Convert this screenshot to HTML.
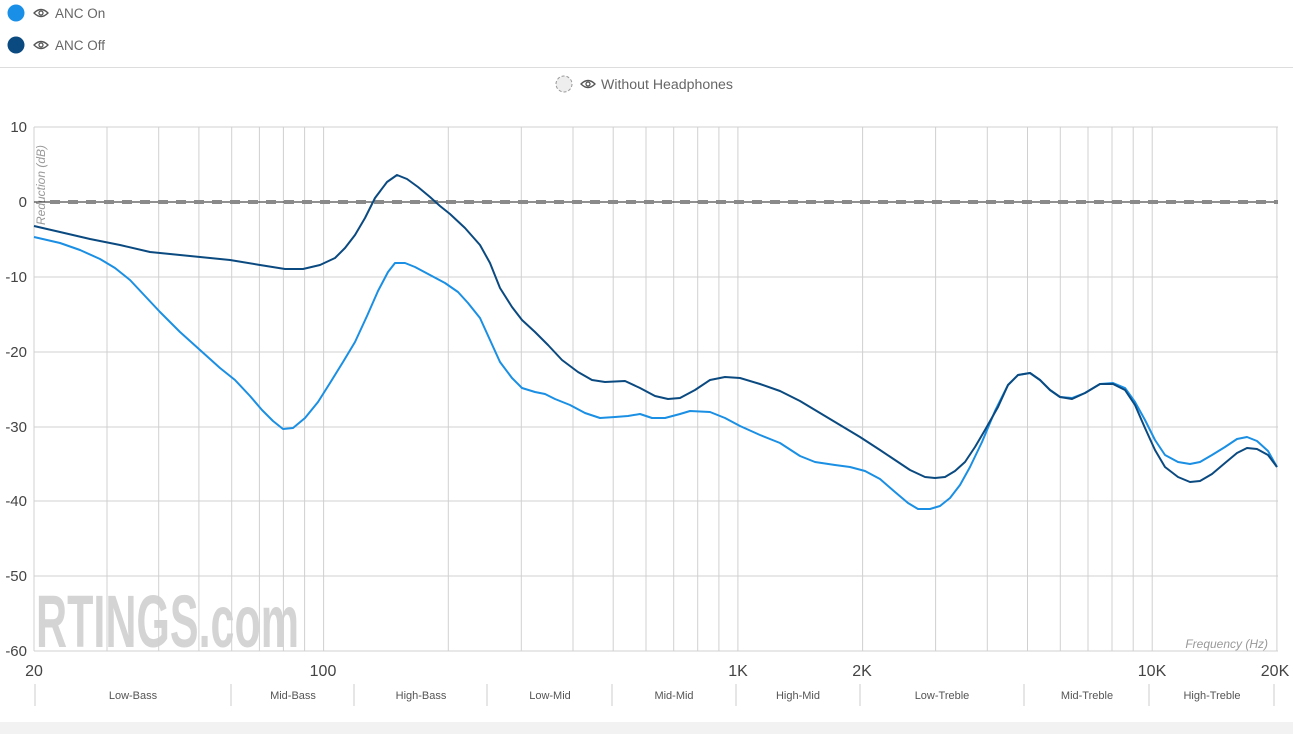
<!DOCTYPE html>
<html><head><meta charset="utf-8"><style>
html,body{margin:0;padding:0;background:#fff;width:1293px;height:734px;overflow:hidden;font-family:"Liberation Sans",sans-serif}
</style></head><body>
<svg width="1293" height="734" xmlns="http://www.w3.org/2000/svg" font-family="Liberation Sans, sans-serif">
<circle cx="16" cy="13" r="8.5" fill="#1a8fe8"/>
<circle cx="16" cy="45" r="8.5" fill="#0b4a80"/>
<g fill="none" stroke="#555" stroke-width="1.3">
<path d="M34 13 Q41 6 48 13 Q41 20 34 13Z"/><circle cx="41" cy="13" r="2"/>
<path d="M34 45 Q41 38 48 45 Q41 52 34 45Z"/><circle cx="41" cy="45" r="2"/>
<path d="M581 84 Q588 77 595 84 Q588 91 581 84Z"/><circle cx="588" cy="84" r="2"/>
</g>
<text x="55" y="18" font-size="13.5" fill="#666">ANC On</text>
<text x="55" y="50" font-size="13.5" fill="#666">ANC Off</text>
<line x1="0" y1="67.5" x2="1293" y2="67.5" stroke="#ddd"/>
<circle cx="564" cy="84" r="8" fill="#eee" stroke="#999" stroke-dasharray="3,2"/>
<text x="601" y="89" font-size="13.5" fill="#666" textLength="132" lengthAdjust="spacingAndGlyphs">Without Headphones</text>
<text x="36" y="647" font-size="74" font-weight="bold" fill="#d4d4d4" textLength="263" lengthAdjust="spacingAndGlyphs">RTINGS.com</text>
<g stroke="#d0d0d0" stroke-width="1">
<line x1="34" y1="127" x2="1278" y2="127"/><line x1="34" y1="277" x2="1278" y2="277"/>
<line x1="34" y1="352" x2="1278" y2="352"/><line x1="34" y1="427" x2="1278" y2="427"/>
<line x1="34" y1="501" x2="1278" y2="501"/><line x1="34" y1="576" x2="1278" y2="576"/>
<line x1="34" y1="651" x2="1278" y2="651"/>
</g>
<g stroke="#d0d0d0" stroke-width="1" id="vg"></g>
<g font-size="15" fill="#444" text-anchor="end">
<text x="27" y="132">10</text><text x="27" y="207">0</text><text x="27" y="282">-10</text>
<text x="27" y="357">-20</text><text x="27" y="432">-30</text><text x="27" y="506">-40</text>
<text x="27" y="581">-50</text><text x="27" y="656">-60</text>
</g>
<g font-size="16" fill="#444" text-anchor="middle">
<text x="34" y="676">20</text><text x="323" y="676">100</text><text x="738" y="676">1K</text>
<text x="862" y="676">2K</text><text x="1152" y="676">10K</text><text x="1275" y="676">20K</text>
</g>
<text transform="translate(45,225) rotate(-90)" font-size="12" font-style="italic" fill="#999">Reduction (dB)</text>
<text x="1268" y="648" font-size="12" font-style="italic" fill="#999" text-anchor="end">Frequency (Hz)</text>
<line x1="34" y1="202" x2="1278" y2="202" stroke="#222" stroke-width="1"/>
<line x1="50" y1="202" x2="1278" y2="202" stroke="#8a8a8a" stroke-width="4" stroke-dasharray="10,8"/>
<polyline fill="none" stroke="#1a8fe3" stroke-width="2" stroke-linejoin="round" points="34,237 60,243 80,250 100,259 115,268 130,280 145,296 160,312 180,332 200,350 220,368 235,380 250,396 262,410 273,421 283,429 293,428 305,418 318,402 330,383 343,362 355,342 367,316 378,291 388,272 395,263 405,263 415,267 430,275 445,283 458,292 468,303 480,318 490,340 500,362 512,378 522,388 535,392 545,394 555,399 570,405 585,413 600,418 615,417 628,416 640,414 652,418 665,418 680,414 690,411 710,412 725,418 740,426 760,435 780,443 800,456 815,462 835,465 850,467 865,471 880,479 895,492 908,503 918,509 930,509 940,506 950,498 960,485 970,467 982,442 995,411 1008,385 1018,375 1030,373 1040,380 1050,390 1060,397 1072,398 1085,393 1100,384 1113,383 1125,388 1135,402 1145,420 1155,440 1165,455 1178,462 1190,464 1200,462 1212,455 1225,447 1237,439 1247,437 1257,441 1268,451 1277,467"/>
<polyline fill="none" stroke="#0b4a80" stroke-width="2" stroke-linejoin="round" points="34,226 60,232 90,239 120,245 150,252 170,254 200,257 230,260 260,265 285,269 303,269 320,265 335,258 345,248 355,235 365,218 375,198 387,182 397,175 407,179 418,187 430,197 440,206 450,214 465,228 480,245 490,263 500,288 512,307 522,320 535,332 548,345 562,360 578,372 592,380 605,382 625,381 640,388 655,396 668,399 680,398 695,390 710,380 725,377 740,378 760,384 780,391 800,401 820,413 840,425 860,437 880,450 895,460 910,470 925,477 935,478 945,477 955,471 965,462 975,447 985,430 998,407 1008,385 1018,375 1030,373 1040,380 1050,390 1060,397 1072,399 1085,393 1100,384 1113,384 1125,390 1135,405 1145,428 1155,450 1165,467 1178,477 1190,482 1200,481 1212,474 1225,463 1237,453 1247,448 1257,449 1268,455 1277,467"/>
<g stroke="#ccc"><line x1="35" y1="684" x2="35" y2="706"/><line x1="231" y1="684" x2="231" y2="706"/><line x1="354" y1="684" x2="354" y2="706"/><line x1="487" y1="684" x2="487" y2="706"/><line x1="612" y1="684" x2="612" y2="706"/><line x1="736" y1="684" x2="736" y2="706"/><line x1="860" y1="684" x2="860" y2="706"/><line x1="1024" y1="684" x2="1024" y2="706"/><line x1="1149" y1="684" x2="1149" y2="706"/><line x1="1274" y1="684" x2="1274" y2="706"/></g>
<g font-size="11" fill="#555" text-anchor="middle">
<text x="133" y="699">Low-Bass</text><text x="293" y="699">Mid-Bass</text><text x="421" y="699">High-Bass</text>
<text x="550" y="699">Low-Mid</text><text x="674" y="699">Mid-Mid</text><text x="798" y="699">High-Mid</text>
<text x="942" y="699">Low-Treble</text><text x="1087" y="699">Mid-Treble</text><text x="1212" y="699">High-Treble</text>
</g>
<rect x="0" y="722" width="1293" height="12" fill="#f2f2f2"/>
</svg>
<script>
var g=document.getElementById('vg'),s='';
var fs=[20,30,40,50,60,70,80,90,100,200,300,400,500,600,700,800,900,1000,2000,3000,4000,5000,6000,7000,8000,9000,10000,20000];
fs.forEach(function(f){var x=34+414.3*Math.log10(f/20);s+='<line x1="'+x.toFixed(1)+'" y1="127" x2="'+x.toFixed(1)+'" y2="651"/>';});
g.innerHTML=s;
</script>
</body></html>
